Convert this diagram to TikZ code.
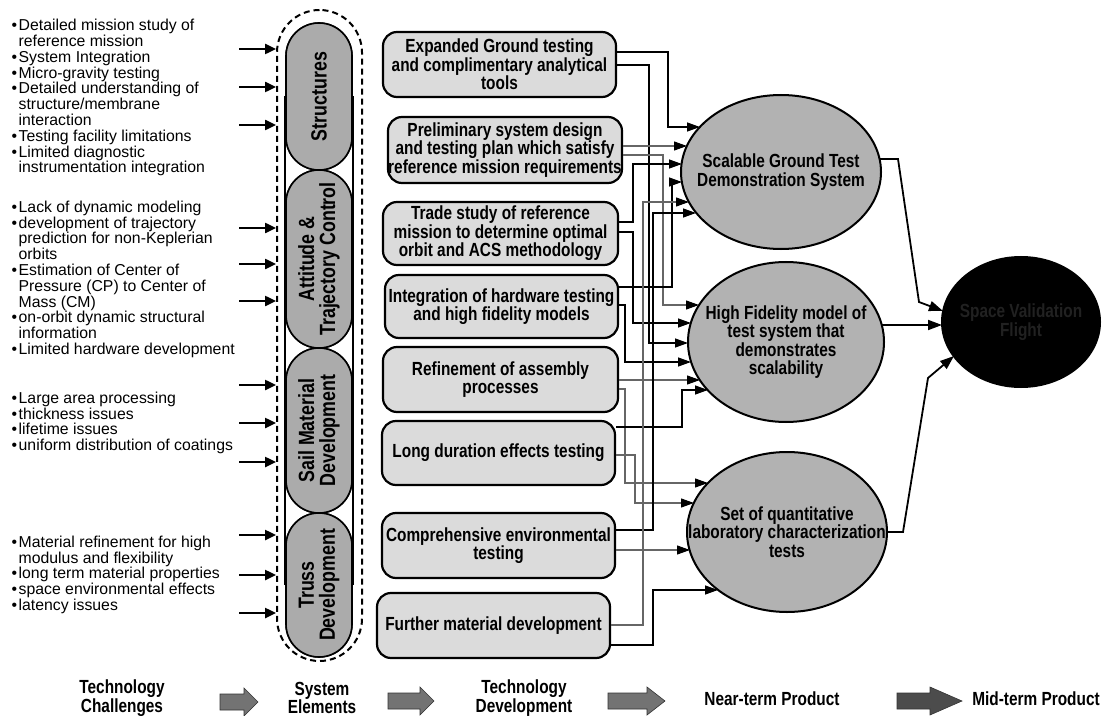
\documentclass[tikz,border=0pt]{standalone}
\usepackage{fontspec}
\setmainfont{Liberation Sans}
\newfontfamily\nb[FakeStretch=0.81]{Liberation Sans}
\usetikzlibrary{arrows.meta,calc,shapes.geometric}
\definecolor{boxfill}{gray}{0.86}
\definecolor{pillfill}{gray}{0.67}
\definecolor{ellfill}{gray}{0.70}
\definecolor{lightline}{gray}{0.40}
\definecolor{blockfill}{gray}{0.45}
\definecolor{darktext}{gray}{0.13}
\newcommand\bu{\llap{\textbullet\hspace{1.5bp}}}
\newcommand\blockarr[5]{\filldraw[blockarrow,#5] (#1,#4-8) -- (#2,#4-8) -- (#2,#4-14) -- (#3,#4) -- (#2,#4+14) -- (#2,#4+8) -- (#1,#4+8) -- cycle;}
\begin{document}
\begin{tikzpicture}[x=1bp,y=-1bp,
  lefttext/.style={anchor=north west, align=left, inner sep=0pt, font=\fontsize{15.8bp}{15.8bp}\selectfont},
  tdbox/.style={draw, line width=2.2bp, rounded corners=14bp, fill=boxfill, inner sep=0pt, align=center, minimum width=233bp, font=\nb\bfseries\fontsize{19bp}{18.5bp}\selectfont},
  pill/.style={draw, line width=1.6bp, fill=pillfill, rotate=90, minimum height=66bp, rounded corners=33bp, inner sep=0pt, align=center, font=\nb\bfseries\fontsize{22bp}{21bp}\selectfont},
  prod/.style={draw, line width=2bp, ellipse, fill=ellfill, inner sep=0pt},
  prodtext/.style={align=center, inner sep=0pt, font=\nb\bfseries\fontsize{19bp}{18.5bp}\selectfont},
  conn/.style={line width=1.3bp, -{Triangle[length=13bp,width=9bp,color=black]}},
  connlight/.style={conn, draw=lightline, line width=1.1bp},
  outconn/.style={line width=1.8bp, -{Triangle[length=14bp,width=10bp]}},
  inarrow/.style={line width=2.4bp, {Triangle[length=11bp,width=10bp]}-},
  steplabel/.style={align=center, inner sep=0pt, font=\nb\bfseries\fontsize{19bp}{18.5bp}\selectfont},
  blockarrow/.style={draw=black!80, line width=0.6bp, fill=blockfill}
]
\useasboundingbox (0,0) rectangle (1103,716);

% ---------------- Technology challenges ----------------
\node[lefttext] (g1) at (18.5,19) {\bu Detailed mission study of\\ reference mission\\ \bu System Integration\\ \bu Micro-gravity testing\\ \bu Detailed understanding of\\ structure/membrane\\ interaction\\ \bu Testing facility limitations\\ \bu Limited diagnostic\\ instrumentation integration};
\node[lefttext] (g2) at (18.5,200.6) {\bu Lack of dynamic modeling\\ \bu development of trajectory\\ prediction for non-Keplerian\\ orbits\\ \bu Estimation of Center of\\ Pressure (CP) to Center of\\ Mass (CM)\\ \bu on-orbit dynamic structural\\ information\\ \bu Limited hardware development};
\node[lefttext] (g3) at (18.5,391.6) {\bu Large area processing\\ \bu thickness issues\\ \bu lifetime issues\\ \bu uniform distribution of coatings};
\node[lefttext] (g4) at (18.5,535.6) {\bu Material refinement for high\\ modulus and flexibility\\ \bu long term material properties\\ \bu space environmental effects\\ \bu latency issues};

% ---------------- System elements ----------------
\node[draw, line width=2bp, dash pattern=on 6bp off 4bp, rounded corners=42.5bp, minimum width=85bp, minimum height=651bp, inner sep=0pt] (sys) at (319.5,335.5) {};
\node[pill, minimum width=147bp] (s1) at (319,96.5) {Structures};
\node[pill, minimum width=178bp] (s2) at (319,259) {Attitude \&\\Trajectory Control};
\node[pill, minimum width=165bp] (s3) at (319,430.5) {Sail Material\\Development};
\node[pill, minimum width=144bp] (s4) at (319,585) {Truss\\Development};
\draw[line width=1.6bp] (s1.north) -- (s4.north);
\draw[line width=1.6bp] (s1.south) -- (s4.south);
\node[pill, minimum width=147bp] at (319,96.5) {Structures};
\node[pill, minimum width=178bp] at (319,259) {Attitude \&\\Trajectory Control};
\node[pill, minimum width=165bp] at (319,430.5) {Sail Material\\Development};
\node[pill, minimum width=144bp] at (319,585) {Truss\\Development};

\foreach \yy in {49,87,125,228,264,301,385,423,462,535,575,613}
  \draw[inarrow] (sys.west |- 0,\yy) -- +(-37,0);

% ---------------- Technology development ----------------
\node[tdbox, minimum height=65bp] (b1) at (499.5,64.5) {Expanded Ground testing\\and complimentary analytical\\tools};
\node[tdbox, minimum width=234bp, minimum height=66bp] (b2) at (505,150) {Preliminary system design\\and testing plan which satisfy\\reference mission requirements};
\node[tdbox, minimum width=235bp, minimum height=63bp] (b3) at (500.5,233.5) {Trade study of reference\\mission to determine optimal\\orbit and ACS methodology};
\node[tdbox, minimum height=63bp] (b4) at (501.5,306.5) {Integration of hardware testing\\and high fidelity models};
\node[tdbox, minimum width=235bp, minimum height=65bp] (b5) at (500.5,379.5) {Refinement of assembly\\processes};
\node[tdbox, minimum height=64bp] (b6) at (498.5,453) {Long duration effects testing};
\node[tdbox, minimum height=65bp] (b7) at (498.5,545.5) {Comprehensive environmental\\testing};
\node[tdbox, minimum height=65bp] (b8) at (493.5,625.5) {Further material development};

% ---------------- Products ----------------
\node[prod, minimum width=200bp, minimum height=154bp] (e1) at (781,172) {};
\node[prodtext] (e1t) at (e1.center) {Scalable Ground Test\\Demonstration System};
\node[prod, minimum width=196bp, minimum height=160bp] (e2) at (786,342) {};
\node[prodtext] (e2t) at (e2.center) {High Fidelity model of\\test system that\\demonstrates\\scalability};
\node[prod, minimum width=200bp, minimum height=160bp] (e3) at (787,532) {};
\node[prodtext] (e3t) at (e3.center) {Set of quantitative\\laboratory characterization\\tests};
\node[prod, fill=black, minimum width=158bp, minimum height=130bp] (e4) at (1021,322) {};
\node[prodtext, text=darktext] (e4t) at (e4.center) {Space Validation\\Flight};

% ---------------- Connectors to near-term products ----------------
\draw[conn] (b1.east |- 0,52) -- (668,52) -- (668,127) -- ($(e1.center)+(-81,-45)$);
\draw[conn] (b1.east |- 0,65) -- (649,65) -- (649,343) -- ($(e2.center)+(-98,1)$);
\draw[connlight] (b2.east |- 0,146) -- ($(e1.center)+(-94,-26)$);
\draw[connlight] (b2.east |- 0,155) -- (663,155) -- (663,305) -- ($(e2.center)+(-87,-37)$);
\draw[conn] (b3.east |- 0,222) -- (633,222) -- (633,164) -- ($(e1.center)+(-99,-8)$);
\draw[conn] (b3.east |- 0,232) -- (633,232) -- (633,323) -- ($(e2.center)+(-95,-19)$);
\draw[conn] (b4.east |- 0,287) -- (672,287) -- (672,182) -- ($(e1.center)+(-99,10)$);
\draw[conn] (b4.east |- 0,305) -- (625,305) -- (625,362) -- ($(e2.center)+(-95,20)$);
\draw[connlight] (b5.east |- 0,380) -- ($(e2.center)+(-86,38)$);
\draw[connlight] (b5.east |- 0,389) -- (625,389) -- (625,483) -- ($(e3.center)+(-79,-49)$);
\draw[conn] (b6.east |- 0,427) -- (682,427) -- (682,390) -- ($(e2.center)+(-78,48)$);
\draw[connlight] (b6.east |- 0,455) -- (635,455) -- (635,503) -- ($(e3.center)+(-93,-29)$);
\draw[conn] (b7.east |- 0,530) -- (653,530) -- (653,213) -- ($(e1.center)+(-85,41)$);
\draw[connlight] (b7.east |- 0,550) -- ($(e3.center)+(-97,18)$);
\draw[connlight] (b8.east |- 0,625) -- (643,625) -- (643,202) -- ($(e1.center)+(-92,30)$);
\draw[conn] (b8.east |- 0,645) -- (653,645) -- (653,590) -- ($(e3.center)+(-69,58)$);

% ---------------- Connectors to mid-term product ----------------
\draw[outconn] ($(e1.center)+(99,-13)$) -- (898,159) -- (919,302) -- ($(e4.center)+(-78,-11)$);
\draw[outconn] ($(e2.center)+(96,-17)$) -- ($(e4.center)+(-79,3)$);
\draw[outconn] (e3.east) -- (903,532) -- (928,378) -- ($(e4.center)+(-67,34)$);

% ---------------- Bottom legend ----------------
\node[steplabel] (l1) at (122,698) {Technology\\Challenges};
\node[steplabel] (l2) at (322,698) {System\\Elements};
\node[steplabel] (l3) at (524,698) {Technology\\Development};
\node[steplabel] (l4) at (772,699) {Near-term Product};
\node[steplabel] (l5) at (1036,699) {Mid-term Product};
\blockarr{220}{244}{258}{702}{}
\blockarr{388}{420}{434}{701}{}
\blockarr{608}{647}{665}{701}{}
\blockarr{897}{930}{962}{701}{fill=gray!60!black}
\end{tikzpicture}
\end{document}
